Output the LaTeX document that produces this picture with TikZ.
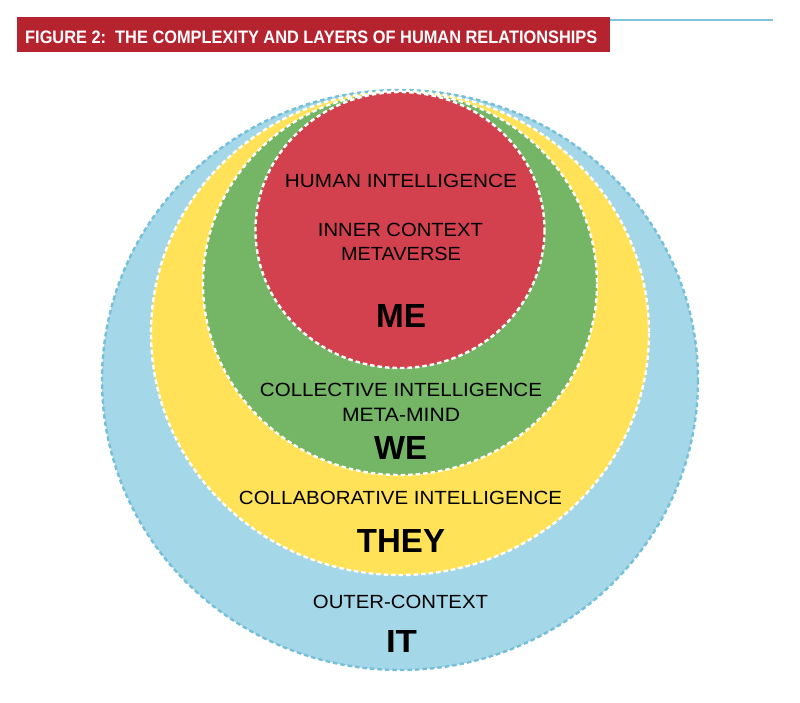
\documentclass[tikz,border=0pt]{standalone}
\usepackage{fontspec}
\setmainfont{Liberation Sans}
\usepackage{graphicx}
\definecolor{bannerred}{HTML}{B5232F}
\definecolor{rulecyan}{HTML}{7FC4DC}
\definecolor{mered}{HTML}{D3414F}
\definecolor{wegreen}{HTML}{74B566}
\definecolor{theyyellow}{HTML}{FFE257}
\definecolor{itblue}{HTML}{A4D7E8}
\definecolor{itedge}{HTML}{76BFD8}
\newcommand{\fitbox}[3]{\resizebox{#1pt}{#2pt}{#3}}
\tikzset{
  ring/.style={draw=white,line width=2.4pt,dash pattern=on 4.5pt off 3pt},
  label/.style={inner sep=0pt,text=black}
}
\begin{document}
\begin{tikzpicture}[x=1pt,y=-1pt]
\useasboundingbox (0,0) rectangle (800,702);
% title banner
\fill[bannerred] (17,17) rectangle (610,52);
\draw[rulecyan,line width=2pt] (610,19.5) -- (773,19.5);
\node[label,text=white,anchor=west] (title) at (25,37) {\fitbox{572}{12.6}{\textbf{FIGURE 2:\ \ THE COMPLEXITY AND LAYERS OF HUMAN RELATIONSHIPS}}};
% layers
\fill[itblue] (400,380) ellipse [x radius=298,y radius=290];
\draw[itedge,line width=2.4pt,dash pattern=on 4.5pt off 3pt] (400,380) ellipse [x radius=298,y radius=290];
\fill[theyyellow] (400,333) ellipse [x radius=249,y radius=242];
\draw[ring] (400,333) ellipse [x radius=249,y radius=242];
\fill[wegreen] (400,283.5) ellipse [x radius=197,y radius=191.5];
\draw[ring] (400,283.5) ellipse [x radius=197,y radius=191.5];
\fill[mered] (400,230) ellipse [x radius=144.5,y radius=138];
\draw[ring] (400,230) ellipse [x radius=144.5,y radius=138];
% texts
\node[label] (human) at (401,181) {\fitbox{232}{13.3}{HUMAN INTELLIGENCE}};
\node[label] (inner) at (400.5,230) {\fitbox{165}{13.3}{INNER CONTEXT}};
\node[label] (metaverse) at (401,254) {\fitbox{120}{13.3}{METAVERSE}};
\node[label] (me) at (401,316) {\fitbox{50}{23}{\textbf{ME}}};
\node[label] (collective) at (401,390) {\fitbox{282}{13.3}{COLLECTIVE INTELLIGENCE}};
\node[label] (metamind) at (401,415) {\fitbox{118}{13.3}{META-MIND}};
\node[label] (we) at (400.5,448) {\fitbox{53}{23}{\textbf{WE}}};
\node[label] (collab) at (400.5,498) {\fitbox{323}{13.3}{COLLABORATIVE INTELLIGENCE}};
\node[label] (they) at (401,541) {\fitbox{88}{23}{\textbf{THEY}}};
\node[label] (outer) at (400.5,602) {\fitbox{175}{13.3}{OUTER-CONTEXT}};
\node[label] (it) at (401.5,641) {\fitbox{31}{22}{\textbf{IT}}};
\end{tikzpicture}
\end{document}
